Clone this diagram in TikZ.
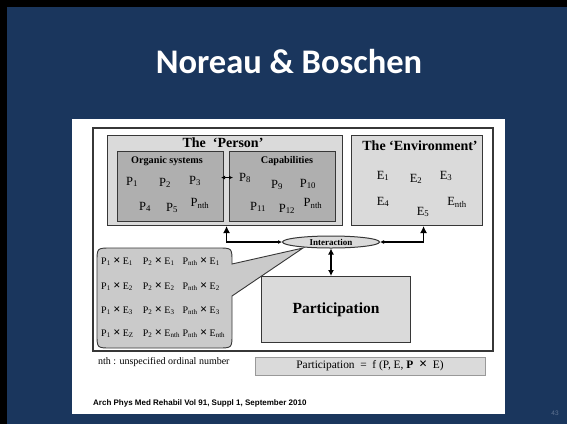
\documentclass[tikz,border=0pt]{standalone}
\usepackage{fontspec}
\setmainfont{Liberation Serif}
\newfontfamily\titlefont{Carlito}
\newfontfamily\citefont{Liberation Sans}
\usetikzlibrary{arrows.meta,shapes.geometric}
\definecolor{slide}{RGB}{26,54,93}
\definecolor{lightg}{RGB}{218,218,218}
\definecolor{midg}{RGB}{175,175,175}
\definecolor{callg}{RGB}{202,202,202}
\definecolor{edge}{RGB}{55,55,55}
\definecolor{pagenum}{RGB}{95,115,145}
\newcommand{\sbs}[1]{\textsubscript{#1}}
\newcommand{\tms}{{\bfseries\scalebox{1.25}{×}}}
\begin{document}
\begin{tikzpicture}[x=1pt,y=-1pt,
  box/.style={draw=edge, line width=1.1pt, inner sep=0pt, anchor=north west},
  lbox/.style={box, fill=lightg},
  mbox/.style={box, fill=midg},
  ptxt/.style={inner sep=0pt, font=\fontsize{12.5}{13}\selectfont},
  hdr/.style={inner sep=0pt, font=\bfseries\fontsize{14}{15}\selectfont},
  shdr/.style={inner sep=0pt, font=\bfseries\fontsize{10.2}{11}\selectfont},
  dbl/.style={{Latex[length=6pt,width=6pt]}-{Latex[length=6pt,width=6pt]}, line width=1.2pt, draw=black},
  conn/.style={{Latex[length=4pt,width=4pt]}-{Latex[length=7pt,width=7pt]}, line width=1.1pt, draw=black}
]
\useasboundingbox (0,0) rectangle (567,424);
% slide background
\fill[black] (0,0) rectangle (567,424);
\fill[slide] (7,7) rectangle (567,424);
\node[inner sep=0pt, text=white, font=\titlefont\bfseries\fontsize{34.5}{38}\selectfont] (title) at (289,62) {Noreau \& Boschen};
\node[inner sep=0pt, text=pagenum, font=\citefont\fontsize{6.5}{7}\selectfont] (pnum) at (555,413) {43};
% white panel
\node[fill=white, inner sep=0pt, minimum width=433pt, minimum height=295pt, anchor=north west] (panel) at (72,119) {};
% outer frame
\node[draw=edge, line width=1.6pt, inner sep=0pt, minimum width=400pt, minimum height=223pt, anchor=north west] (frame) at (92,127) {};
% person
\node[lbox, minimum width=235pt, minimum height=90pt] (person) at (107,135) {};
\node[hdr] (persont) at (223,143) {The \ ‘Person’};
\node[mbox, minimum width=106pt, minimum height=70pt] (org) at (117,151) {};
\node[mbox, minimum width=106pt, minimum height=70pt] (cap) at (229,151) {};
\node[shdr] (orgt) at (167,161) {Organic systems};
\node[shdr] (capt) at (287,161) {Capabilities};
\node[ptxt] (p1) at (132,182) {P\sbs{1}};
\node[ptxt] (p2) at (165,183) {P\sbs{2}};
\node[ptxt] (p3) at (195,181) {P\sbs{3}};
\node[ptxt] (p4) at (145,207) {P\sbs{4}};
\node[ptxt] (p5) at (172,208) {P\sbs{5}};
\node[ptxt] (pn1) at (200,203) {P\sbs{nth}};
\node[ptxt] (p8) at (245,178) {P\sbs{8}};
\node[ptxt] (p9) at (277,185) {P\sbs{9}};
\node[ptxt] (p10) at (308,184) {P\sbs{10}};
\node[ptxt] (p11) at (258,207) {P\sbs{11}};
\node[ptxt] (p12) at (287,209) {P\sbs{12}};
\node[ptxt] (pn2) at (313,203) {P\sbs{nth}};
% environment
\node[lbox, minimum width=131pt, minimum height=90pt] (env) at (351,135) {};
\node[hdr] (envt) at (420,146) {The ‘Environment’};
\node[ptxt] (e1) at (383,176) {E\sbs{1}};
\node[ptxt] (e2) at (416,179) {E\sbs{2}};
\node[ptxt] (e3) at (446,176) {E\sbs{3}};
\node[ptxt] (e4) at (383,202) {E\sbs{4}};
\node[ptxt] (e5) at (423,212) {E\sbs{5}};
\node[ptxt] (en) at (457,202) {E\sbs{nth}};
% callout
\draw[draw=edge, line width=0.9pt, fill=callg]
  (111,248) -- (218,248) .. controls (232,248) .. (232,262) -- (232,264)
  -- (303,248) -- (232,296) -- (232,334) .. controls (232,348) .. (218,348)
  -- (111,348) .. controls (97,348) .. (97,334) -- (97,262)
  .. controls (97,248) .. (111,248) -- cycle;
\node[inner sep=0pt, anchor=west, font=\fontsize{10}{11}\selectfont] (cells) at (101,298) {%
  \begin{tabular}{@{}l@{\hspace{9pt}}l@{\hspace{8pt}}l@{}}
  P\sbs{1} \tms\ E\sbs{1} & P\sbs{2} \tms\ E\sbs{1} & P\sbs{nth} \tms\ E\sbs{1}\\[14pt]
  P\sbs{1} \tms\ E\sbs{2} & P\sbs{2} \tms\ E\sbs{2} & P\sbs{nth} \tms\ E\sbs{2}\\[13pt]
  P\sbs{1} \tms\ E\sbs{3} & P\sbs{2} \tms\ E\sbs{3} & P\sbs{nth} \tms\ E\sbs{3}\\[12pt]
  P\sbs{1} \tms\ E\sbs{Z} & P\sbs{2} \tms\ E\sbs{nth}\hspace{-7pt} & P\sbs{nth} \tms\ E\sbs{nth}
  \end{tabular}};
% interaction
\node[ellipse, draw=edge, line width=1pt, fill=lightg, minimum width=97pt, minimum height=12pt, inner sep=0pt, font=\bfseries\fontsize{9}{10}\selectfont] (inter) at (331,242) {Interaction};
% participation
\node[lbox, minimum width=149pt, minimum height=66pt] (part) at (261,276) {};
\node[inner sep=0pt, font=\bfseries\fontsize{15.5}{17}\selectfont] (partt) at (part.center) {Participation};
% connectors
\draw[{Latex[length=4pt,width=4pt]}-{Latex[length=4pt,width=4pt]}, line width=1pt] ([xshift=-3pt,yshift=9pt]org.east) -- ([xshift=4pt,yshift=9pt]cap.west);
\draw[conn] (inter.west) -| ([xshift=1.5pt]person.south);
\draw[conn] (inter.east) -| ([xshift=6.5pt]env.south);
\draw[dbl] (inter.south) -- (inter.south |- part.north);
% notes below
\node[inner sep=0pt, anchor=west, font=\fontsize{10}{11}\selectfont] (nth) at (98,362) {nth : unspecified ordinal number};
\node[draw=gray!80, line width=0.8pt, fill=lightg, inner sep=0pt, minimum width=230pt, minimum height=18pt, anchor=north west] (fbox) at (255,357) {};
\node[inner sep=0pt, font=\fontsize{11.4}{12}\selectfont] (ftxt) at (370,366) {Participation \ = \ f (P, E, \textbf{P} \ \tms\ \ E)};
\node[inner sep=0pt, anchor=west, font=\citefont\bfseries\fontsize{8}{9}\selectfont] (cite) at (93,403) {Arch Phys Med Rehabil Vol 91, Suppl 1, September 2010};
\end{tikzpicture}
\end{document}
